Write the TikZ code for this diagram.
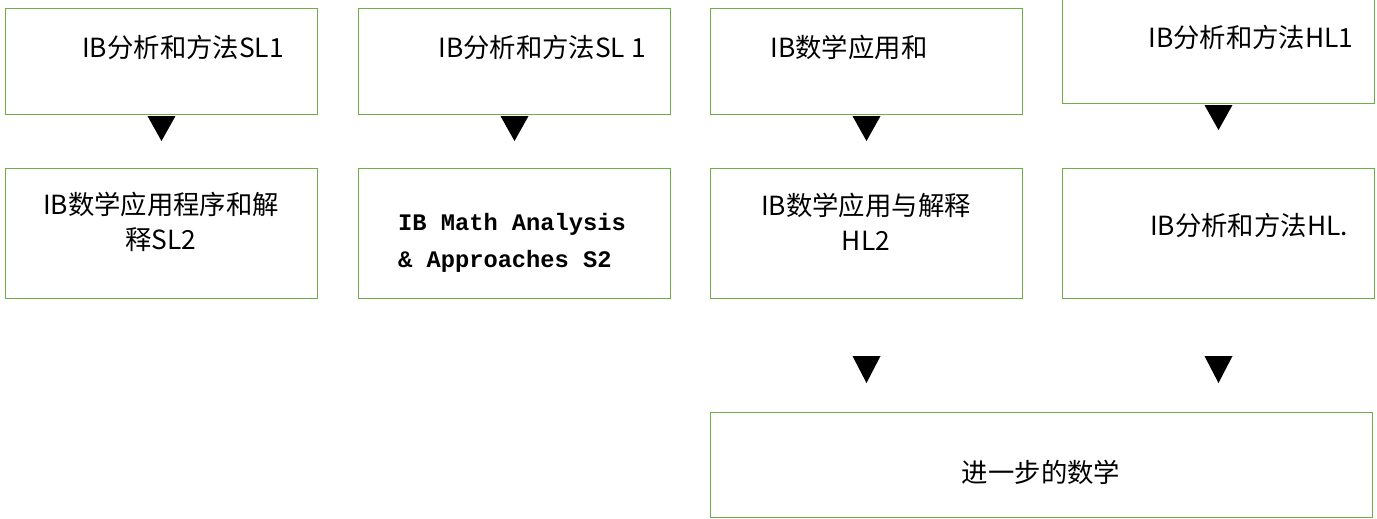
\documentclass[tikz,border=0pt]{standalone}
\usepackage{fontspec}
\setmainfont{Noto Sans CJK SC}
\newfontfamily\monofnt{Liberation Mono}
\usepackage{tikz}
\usetikzlibrary{calc}
\definecolor{boxgreen}{RGB}{112,173,71}

\begin{document}
\begin{tikzpicture}[x=0.02cm, y=-0.02cm,
  box/.style={draw=boxgreen, line width=0.6pt, anchor=north west, inner sep=0pt, minimum width=6.24cm},
  lbl/.style={font=\fontsize{15}{20}\selectfont, align=center, inner sep=0pt}]
  \useasboundingbox (0,0) rectangle (1377,518);

  % top row
  \node[box, minimum height=2.12cm] (slA) at (5, 8) {};
  \node[box, minimum height=2.12cm] (slB) at (358, 8) {};
  \node[box, minimum height=2.12cm] (aiH) at (710, 8) {};
  \node[box, minimum height=2.12cm] (aaH) at (1062, -3) {};

  % second row
  \node[box, minimum height=2.6cm] (aiS2) at (5, 168) {};
  \node[box, minimum height=2.6cm] (aaS2) at (358, 168) {};
  \node[box, minimum height=2.6cm] (aiH2) at (710, 168) {};
  \node[box, minimum height=2.6cm] (aaH2) at (1062, 168) {};

  \node[box, minimum width=13.24cm, minimum height=2.1cm] (further) at (710, 412) {};

  % texts
  \node[lbl] (tslA) at (183, 47) {IB分析和方法SL1};
  \node[lbl] (tslB) at (542, 47) {IB分析和方法SL 1};
  \node[lbl] (taiH) at (849, 47) {IB数学应用和};
  \node[lbl] (taaH) at (1251, 37) {IB分析和方法HL1};
  \node[lbl] (taiS2) at (161, 222) {IB数学应用程序和解\\释SL2};
  \node[lbl, font=\monofnt\bfseries\fontsize{13.5}{21}\selectfont, align=left] (taaS2) at (512, 243)
    {IB Math Analysis\\\& Approaches S2};
  \node[lbl] (taiH2) at (866, 222) {IB数学应用与解释\\HL2};
  \node[lbl] (taaH2) at (1249, 225) {IB分析和方法HL.};
  \node[lbl] (tfurther) at (1041, 472) {进一步的数学};

  % arrow heads
  \foreach \src in {slA, slB, aiH, aaH}
    \fill ($(\src.south)+(-14,1)$) -- ++(28,0) -- ($(\src.south)+(0,26)$) -- cycle;
  \foreach \src in {aiH2, aaH2}
    \fill ($(\src.south)+(-14,57)$) -- ++(28,0) -- ($(\src.south)+(0,84)$) -- cycle;
\end{tikzpicture}
\end{document}
